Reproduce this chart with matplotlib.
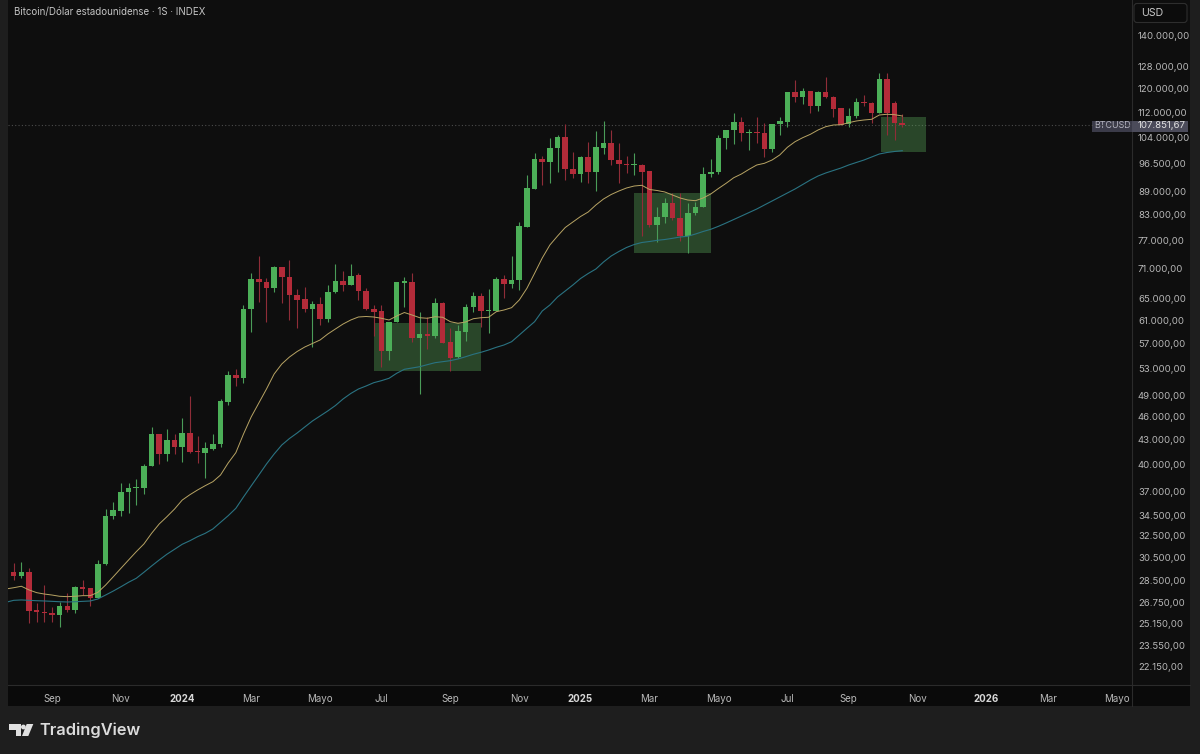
import pandas as pd
import matplotlib
matplotlib.use('Agg')
import matplotlib.pyplot as plt
import matplotlib.dates as mdates
from matplotlib.patches import Rectangle, Polygon, Circle, FancyBboxPatch

# weekly BTCUSD candles, one value per week from 2023-07-24
first_week = '2023-07-24'
opens = [29200,
    29210, 28920, 29210, 26140, 26030, 25930, 25780, 26470, 26160, 27960, 27870, 27120, 29920, 34430, 34970, 36960, 37330, 37330, 39850, 43720, 41230, 42990, 42160, 43920,
    41630, 41430, 41840, 42460, 48080, 52030, 51580, 62990, 68880, 68220, 67090, 71220, 69230, 65680, 64860, 62990, 63970, 61280, 66200, 68420, 67630, 69630, 66440, 63050,
    62680, 55760, 60750, 68080, 68220, 57970, 58600, 58260, 64220, 57200, 54750, 59000, 63470, 65540, 62680, 62730, 68880, 67760, 68620, 80190, 89530, 97820, 96960, 101010,
    104220, 94910, 93460, 98220, 94170, 100920, 102410, 97440, 96400, 96030, 96030, 94280, 80590, 82420, 85940, 82250, 78110, 83460, 85010, 93620, 94170, 103820, 106280, 108990,
    105440, 105750, 105540, 100630, 108160, 108980, 118870, 117240, 119320, 114100, 118970, 117240, 113340, 108160, 110810, 115440, 115110, 111690, 123360, 115000, 108480]
highs = [30010,
    30010, 30130, 29580, 26720, 28140, 26410, 26800, 27470, 28060, 28560, 27900, 30280, 35110, 35900, 37880, 37880, 38330, 40050, 44700, 43720, 44360, 43750, 45810, 48890,
    43500, 42780, 43750, 48420, 52640, 52910, 63790, 69980, 73610, 68960, 71550, 71220, 72750, 66780, 67290, 64540, 65350, 67630, 71910, 70510, 71840, 69980, 67030, 63780,
    63790, 60750, 68160, 69290, 69980, 62550, 61640, 65050, 64410, 59590, 60170, 63970, 66320, 66010, 66780, 69170, 69630, 73610, 81370, 93270, 99370, 98590, 103820, 104840,
    108250, 99840, 98590, 102620, 106160, 109210, 106370, 102320, 98590, 99370, 96230, 94280, 85010, 87130, 88410, 88410, 85860, 86260, 95560, 97640, 104830, 106370, 111690, 110390,
    106590, 110590, 108670, 108250, 110390, 118970, 123110, 120160, 119320, 119320, 124080, 117480, 113340, 113340, 116700, 117830, 115340, 125540, 125760, 115880, 111460]
lows = [29000,
    28560, 28730, 25210, 25280, 25280, 25280, 24870, 26010, 25960, 27330, 26490, 27090, 29840, 34100, 34430, 34760, 35560, 36680, 39850, 40080, 40470, 41230, 40350, 41430,
    40160, 38440, 41760, 42160, 47620, 50340, 50830, 59000, 64410, 60750, 66320, 64220, 61050, 59590, 62440, 56470, 60170, 60640, 66120, 66450, 67630, 64730, 62860, 58270,
    53260, 54320, 60640, 63360, 57200, 49140, 56040, 57870, 57030, 52600, 54590, 57470, 62550, 59870, 58720, 62680, 65050, 67040, 66650, 80120, 89530, 90580, 91030, 94010,
    91910, 92370, 91300, 91030, 89000, 99170, 96030, 91030, 93730, 93270, 78040, 80050, 76750, 81130, 81770, 76970, 74320, 82980, 84940, 92800, 93540, 100630, 102110, 103010,
    100330, 102500, 98220, 99660, 104830, 107400, 115340, 114670, 111690, 112450, 116700, 110390, 107940, 107220, 110070, 114200, 108480, 111690, 104830, 103310, 107220]
closes = [29210,
    28920, 29210, 26110, 26010, 25910, 25800, 26470, 26160, 27960, 27790, 27120, 29950, 34430, 35010, 36960, 37330, 37440, 39880, 43720, 41230, 42990, 42160, 43850, 41550,
    41480, 41960, 42490, 48230, 52030, 51530, 63050, 68880, 68160, 67090, 71220, 69170, 65620, 64780, 62990, 63970, 61280, 66200, 68360, 67570, 69490, 66510, 62990, 62440,
    55760, 60700, 68160, 68360, 57970, 58600, 58210, 64220, 57130, 54680, 59120, 63470, 65540, 62730, 62860, 68880, 67760, 68620, 80350, 89710, 97820, 96960, 101010, 104220,
    94910, 93460, 98220, 94170, 101130, 102410, 97360, 96230, 95950, 96310, 94090, 80590, 82420, 85940, 82180, 78040, 83460, 85010, 93620, 94170, 103910, 106370, 108890, 105350,
    105750, 105440, 100720, 108160, 109210, 118970, 117240, 119320, 114100, 118970, 117240, 113200, 107940, 110910, 115340, 115000, 111790, 123360, 111690, 108480, 107851.67]
ma_yellow = [27820,
    27920, 28040, 27740, 27520, 27410, 27330, 27230, 27200, 27230, 27280, 27280, 27550, 28140, 28830, 29550, 30280, 31020, 31730, 32730, 33640, 34360, 35140, 36070, 36640,
    37150, 37620, 38060, 38810, 40200, 41430, 43750, 45980, 47900, 49900, 52140, 53690, 54790, 55680, 56420, 57000, 57590, 58600, 59470, 60340, 61050, 61590, 61680, 61590,
    61360, 61050, 61770, 62400, 61950, 61460, 61360, 61640, 61540, 60750, 60470, 60700, 61280, 61460, 61540, 62550, 62860, 63290, 64730, 66980, 69980, 73180, 76020, 78040,
    80000, 81300, 82610, 83710, 85440, 86950, 88100, 89000, 89790, 90310, 90500, 89400, 89130, 88750, 87970, 87200, 86690, 86520, 87200, 88230, 89660, 91030, 92530, 93540,
    94830, 96030, 96510, 97440, 98880, 101130, 102800, 104010, 105040, 106370, 107400, 107940, 108030, 108670, 109210, 109530, 109750, 111140, 111370, 111240, 110810]
ma_blue = [26760,
    26910, 26940, 26910, 26880, 26860, 26830, 26800, 26780, 26800, 26830, 26860, 27020, 27330, 27650, 28000, 28370, 28700, 29210, 29750, 30280, 30790, 31240, 31700, 32030,
    32410, 32730, 33150, 33800, 34460, 35210, 36400, 37590, 38810, 40080, 41270, 42370, 43180, 43880, 44660, 45450, 46120, 46800, 47550, 48470, 49250, 49900, 50340, 50830,
    51130, 51490, 52250, 52860, 53060, 53260, 53580, 53890, 54050, 54210, 54480, 54840, 55230, 55550, 55930, 56370, 56750, 57300, 58430, 59590, 60750, 62680, 63790, 65300,
    66450, 67630, 68920, 69940, 70860, 72330, 73610, 74580, 75460, 76120, 76570, 76790, 77060, 77240, 77510, 77810, 77970, 78490, 79070, 79580, 80280, 81060, 81890, 82730,
    83580, 84440, 85440, 86440, 87460, 88490, 89530, 90710, 91910, 92990, 93810, 94500, 95190, 96030, 96740, 97440, 98300, 99170, 99600, 99900, 100130]

price_ticks = [140000, 128000, 120000, 112000, 104000, 96500, 89000, 83000, 77000, 71000, 65000, 61000, 57000,
               53000, 49000, 46000, 43000, 40000, 37000, 34500, 32500, 30500, 28500, 26750, 25150, 23550, 22150]
month_ticks = ['2023-09-04', '2023-11-06', '2024-01-01', '2024-03-04', '2024-05-06', '2024-07-01', '2024-09-02', '2024-11-04',
               '2024-12-30', '2025-03-03', '2025-05-05', '2025-07-07', '2025-09-01', '2025-11-03', '2026-01-05', '2026-03-02', '2026-05-04']
month_labels = ['Sep', 'Nov', '2024', 'Mar', 'Mayo', 'Jul', 'Sep', 'Nov', '2025', 'Mar', 'Mayo', 'Jul', 'Sep', 'Nov', '2026', 'Mar', 'Mayo']
zone_start = ['2024-06-24', '2025-02-17', '2025-10-01']
zone_end = ['2024-09-30', '2025-04-28', '2025-11-11']
zone_low = [52600, 74310, 99830]
zone_high = [60580, 88410, 110590]
last_price = 107851.67

W, H = 1200, 754
BG = '#0e0e0e'
OUTER = '#1e1e1e'
GREEN = '#4caf58'
RED = '#b32b39'
GREEN_W = '#4a9c58'
RED_W = '#8f2d38'
TXT = '#b9b9b9'
plt.rcParams['font.family'] = ['Inter', 'DejaVu Sans']


def price_label(p):
    return f'{p:,.2f}'.replace(',', 'X').replace('.', ',').replace('X', '.')


fig = plt.figure(figsize=(W / 100, H / 100), dpi=100, facecolor=OUTER)

# page furniture, drawn in picture pixels
page = fig.add_axes([0, 0, 1, 1], zorder=0)
page.set_xlim(0, W)
page.set_ylim(H, 0)
page.axis('off')
page.add_patch(Rectangle((8, 0), 1182, 706, fc=BG, ec='none'))
page.add_patch(Rectangle((8, 685), 1182, 21, fc='#0a0a0a', ec='none'))
page.plot([8, 1190], [684.5, 684.5], color='#2b2b2b', lw=0.8)
page.plot([1131.5, 1131.5], [0, 706], color='#2b2b2b', lw=0.8)

ax = fig.add_axes([8 / W, 1 - 684 / H, (1131 - 8) / W, 684 / H], zorder=1)
ax.set_facecolor('none')
for s in ax.spines.values():
    s.set_visible(False)

dates = pd.date_range(first_week, periods=len(opens), freq='7D')
xs = mdates.date2num(dates)
up = [c >= o for o, c in zip(opens, closes)]
bottoms = [min(o, c) for o, c in zip(opens, closes)]
heights = [abs(c - o) for o, c in zip(opens, closes)]

for a, b, lo, hi in zip(zone_start, zone_end, zone_low, zone_high):
    x0, x1 = mdates.datestr2num(a), mdates.datestr2num(b)
    ax.add_patch(Rectangle((x0, lo), x1 - x0, hi - lo, fc='#61b961', alpha=0.33, ec='none', zorder=1.5))

ax.vlines(xs, lows, highs, colors=[GREEN_W if u else RED_W for u in up], lw=0.8, zorder=2)
ax.bar(xs, heights, 5.1, bottom=bottoms, color=[GREEN if u else RED for u in up], lw=0, zorder=3)
ax.plot(xs, ma_yellow, color='#b8a464', lw=0.7, zorder=4)
ax.plot(xs, ma_blue, color='#2a7382', lw=0.8, zorder=4)
ax.axhline(last_price, color='#4c4c4c', lw=0.8, ls=(0, (1, 2)), zorder=1)

ax.set_yscale('log')
ax.set_ylim(21073, 155530)
x_start = mdates.datestr2num('2023-07-31')
ax.set_xlim(x_start - 5.2, x_start + 1021)

ax.yaxis.tick_right()
ax.set_yticks(price_ticks)
ax.set_yticklabels([price_label(p) for p in price_ticks], fontsize=6.9, color=TXT)
ax.minorticks_off()
ax.set_xticks(mdates.datestr2num(month_ticks))
ax.set_xticklabels(month_labels, fontsize=7.0, color=TXT)
for lab in ax.get_xticklabels():
    if lab.get_text().isdigit():
        lab.set_fontweight('bold')
        lab.set_color('#d8d8d8')
ax.tick_params(axis='y', length=0, pad=5)
ax.tick_params(axis='x', length=0, pad=7)

# header and last price tag
page.text(14.5, 12, 'Bitcoin/Dólar estadounidense · 1S · INDEX', fontsize=7.0, color='#c4c4c4', va='center', ha='left')
page.add_patch(FancyBboxPatch((1134, 3.5), 53, 19, boxstyle='round,pad=0,rounding_size=3', fc='#0c0c0c', ec='#2e2e2e', lw=0.8))
page.text(1141, 13, 'USD', fontsize=7.6, color='#c8c8c8', va='center', ha='left')
page.add_patch(Rectangle((1092, 120.5), 40, 11, fc='#3b3b49', ec='none', zorder=6))
page.add_patch(Rectangle((1132, 120.5), 56, 11, fc='#4b4b5a', ec='none', zorder=6))
page.text(1094.5, 126, 'BTCUSD', fontsize=6.4, color='#b4b4c0', va='center', ha='left', zorder=7)

# footer logo
page.add_patch(Polygon([(9.3, 724), (20.7, 724), (20.7, 736), (15.7, 736), (15.7, 730), (9.3, 730)], fc='#e0e0e0', ec='none'))
page.add_patch(Circle((23.4, 727), 2.4, fc='#e0e0e0', ec='none'))
page.add_patch(Polygon([(26.7, 724), (33.3, 724), (28.3, 736), (22, 736)], fc='#e0e0e0', ec='none'))
page.text(39, 730.5, 'TradingView', fontsize=11.8, fontweight='semibold', color='#dcdcdc', va='center', ha='left')

fig.text(1138 / W, 1 - 126 / H, price_label(last_price), fontsize=6.9, color='#e4e4e4', va='center', ha='left', zorder=8)

fig.savefig('out.png', dpi=100, facecolor=OUTER)
